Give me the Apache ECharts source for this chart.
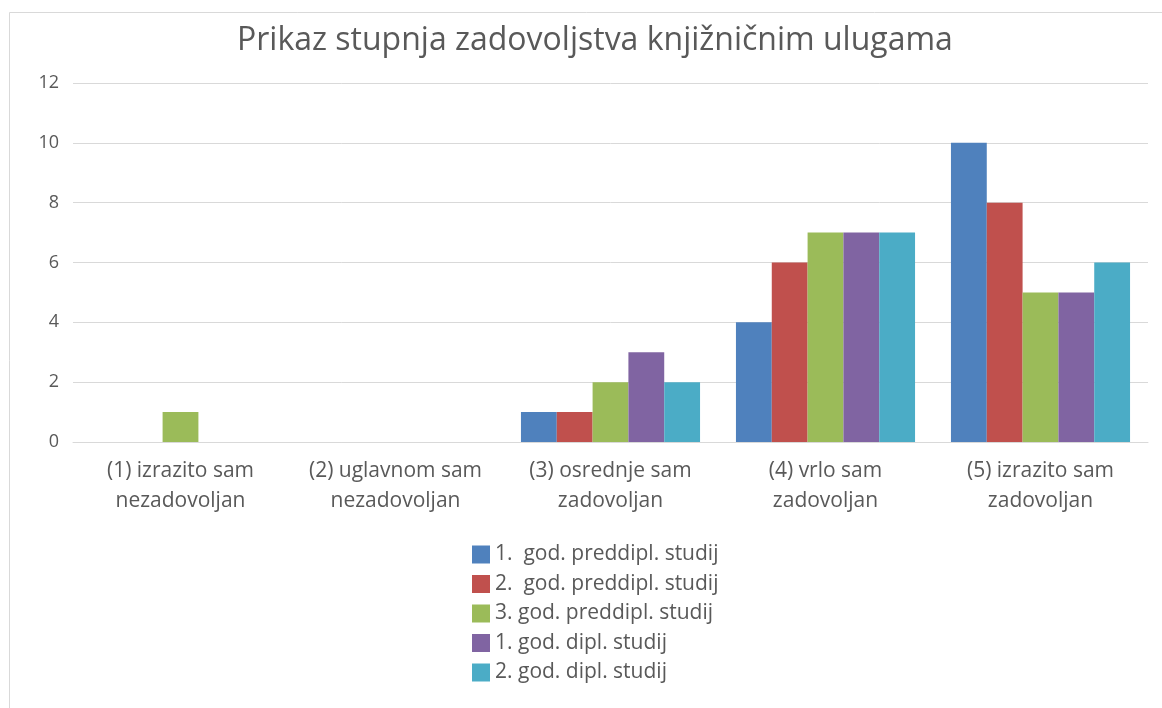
<!DOCTYPE html>
<html>
<head>
<meta charset="utf-8">
<script src="https://cdn.jsdelivr.net/npm/echarts@6/dist/echarts.min.js"></script>
<style>
  html, body { margin: 0; padding: 0; background: #fff; }
  #chart { width: 1162px; height: 708px; }
</style>
</head>
<body>
<div id="chart"></div>
<script>
// kategorije i vrijednosti očitane s grafikona
const categories = [
  '(1) izrazito sam\nnezadovoljan',
  '(2) uglavnom sam\nnezadovoljan',
  '(3) osrednje sam\nzadovoljan',
  '(4) vrlo sam\nzadovoljan',
  '(5) izrazito sam\nzadovoljan'
];
const seriesNames = [
  '1.  god. preddipl. studij',
  '2.  god. preddipl. studij',
  '3. god. preddipl. studij',
  '1. god. dipl. studij',
  '2. god. dipl. studij'
];
const prvaPreddipl = [0, 0, 1, 4, 10];
const drugaPreddipl = [0, 0, 1, 6, 8];
const trecaPreddipl = [1, 0, 2, 7, 5];
const prvaDipl = [0, 0, 3, 7, 5];
const drugaDipl = [0, 0, 2, 7, 6];
const colors = ['#4f81bd', '#c0504d', '#9bbb59', '#8064a2', '#4bacc6'];

const values = [prvaPreddipl, drugaPreddipl, trecaPreddipl, prvaDipl, drugaDipl];
const font = '"Open Sans", "Noto Sans", sans-serif';

const chart = echarts.init(document.getElementById('chart'));
chart.setOption({
  backgroundColor: '#fff',
  animation: false,
  textStyle: { fontFamily: font },
  title: {
    text: 'Prikaz stupnja zadovoljstva knjižničnim ulugama',
    left: 232, top: 20,
    textStyle: { fontFamily: font, fontSize: 32, fontWeight: 'normal', color: '#595959' }
  },
  graphic: [{
    type: 'rect',
    shape: { x: 9.5, y: 12.5, width: 1170, height: 720 },
    style: { fill: 'none', stroke: '#d9d9d9', lineWidth: 1 },
    silent: true
  }],
  legend: {
    orient: 'vertical',
    left: 467, top: 539,
    itemWidth: 18, itemHeight: 18, itemGap: 8.5,
    icon: 'rect',
    textStyle: { fontFamily: font, fontSize: 21, color: '#595959' },
    data: seriesNames
  },
  grid: { left: 73, right: 14, top: 83, bottom: 266, containLabel: false },
  xAxis: {
    type: 'category',
    data: categories,
    axisTick: { show: false },
    axisLine: { lineStyle: { color: '#d9d9d9', width: 1 } },
    axisLabel: { interval: 0, color: '#595959', fontSize: 21, lineHeight: 30, margin: 14, fontFamily: font }
  },
  yAxis: {
    type: 'value',
    min: 0, max: 12, interval: 2,
    axisLine: { show: false },
    axisTick: { show: false },
    axisLabel: { color: '#595959', fontSize: 18, margin: 14, fontFamily: font },
    splitLine: { lineStyle: { color: '#d9d9d9', width: 1 } }
  },
  series: seriesNames.map((name, i) => ({
    name: name,
    type: 'bar',
    data: values[i],
    barGap: '0%',
    barCategoryGap: '16.7%',
    itemStyle: { color: colors[i] }
  }))
});
</script>
</body>
</html>
